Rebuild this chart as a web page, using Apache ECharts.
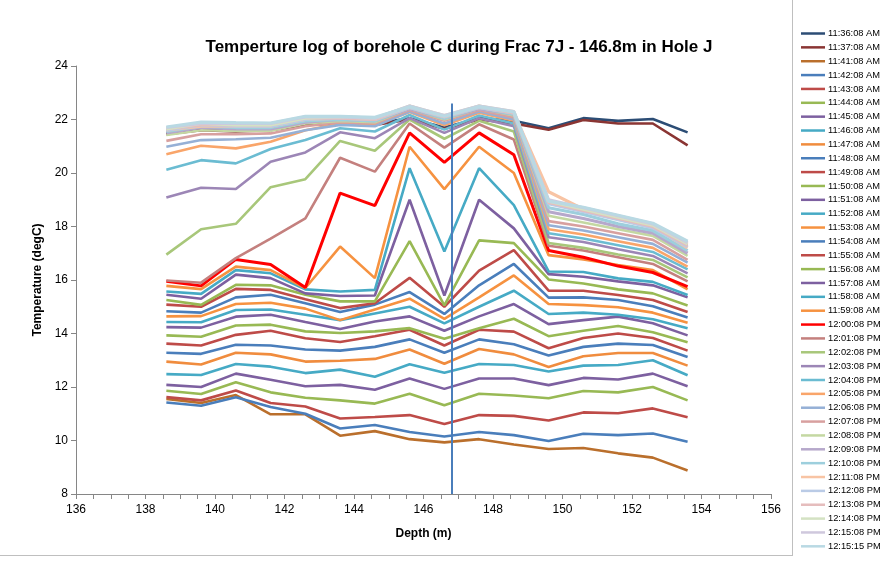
<!DOCTYPE html>
<html>
<head>
<meta charset="utf-8">
<script src="https://cdn.jsdelivr.net/npm/echarts@6/dist/echarts.min.js"></script>
<style>
  html, body { margin: 0; padding: 0; background: #fff; }
  #chart { width: 882px; height: 563px; }
</style>
</head>
<body>
<div id="chart"></div>
<script>
// depth positions (m)
const depth = [138.6, 139.6, 140.6, 141.6, 142.6, 143.6, 144.6, 145.6, 146.6, 147.6, 148.6, 149.6, 150.6, 151.6, 152.6, 153.6]

// temperature (degC) per log time
const t1136 = [21.5, 21.65, 21.6, 21.65, 21.85, 21.9, 21.85, 22.05, 21.7, 22.05, 21.95, 21.67, 22.05, 21.95, 22.02, 21.52]
const t1137 = [21.45, 21.6, 21.55, 21.6, 21.8, 21.85, 21.8, 22.0, 21.65, 22.0, 21.85, 21.62, 21.98, 21.85, 21.85, 21.03]
const t1141 = [11.55, 11.4, 11.7, 10.98, 10.98, 10.18, 10.35, 10.05, 9.93, 10.05, 9.85, 9.68, 9.72, 9.52, 9.36, 8.88]
const t1142 = [11.42, 11.3, 11.62, 11.25, 11.0, 10.45, 10.58, 10.32, 10.15, 10.32, 10.2, 9.98, 10.25, 10.2, 10.26, 9.95]
const t1143 = [11.62, 11.5, 11.87, 11.4, 11.27, 10.82, 10.88, 10.95, 10.62, 10.95, 10.92, 10.75, 11.05, 11.02, 11.2, 10.87]
const t1144 = [11.86, 11.74, 12.18, 11.8, 11.6, 11.5, 11.38, 11.75, 11.32, 11.75, 11.68, 11.58, 11.85, 11.8, 12.0, 11.5]
const t1145 = [12.08, 12.0, 12.5, 12.27, 12.03, 12.08, 11.9, 12.32, 11.93, 12.32, 12.32, 12.07, 12.34, 12.28, 12.5, 12.03]
const t1146 = [12.48, 12.45, 12.86, 12.76, 12.52, 12.65, 12.38, 12.85, 12.53, 12.86, 12.82, 12.58, 12.8, 12.82, 13.0, 12.44]
const t1147 = [12.95, 12.84, 13.28, 13.22, 12.95, 12.98, 13.05, 13.4, 12.87, 13.42, 13.22, 12.75, 13.15, 13.27, 13.27, 12.8]
const t1148 = [13.28, 13.24, 13.58, 13.55, 13.4, 13.36, 13.5, 13.78, 13.28, 13.78, 13.6, 13.18, 13.5, 13.62, 13.57, 13.12]
const t1149 = [13.62, 13.55, 13.95, 14.1, 13.82, 13.68, 13.9, 14.14, 13.55, 14.14, 14.07, 13.45, 13.83, 14.0, 13.83, 13.36]
const t1150 = [13.93, 13.88, 14.3, 14.33, 14.08, 14.02, 14.08, 14.2, 13.8, 14.2, 14.55, 13.9, 14.1, 14.28, 14.05, 13.67]
const t1151 = [14.24, 14.22, 14.63, 14.7, 14.43, 14.17, 14.45, 14.64, 14.1, 14.64, 15.1, 14.35, 14.5, 14.63, 14.38, 13.93]
const t1152 = [14.43, 14.42, 14.88, 14.9, 14.7, 14.5, 14.75, 15.0, 14.38, 15.0, 15.6, 14.73, 14.78, 14.7, 14.53, 14.2]
const t1153 = [14.64, 14.65, 15.1, 15.15, 14.93, 14.5, 14.9, 15.3, 14.55, 15.35, 16.17, 15.1, 15.06, 14.98, 14.78, 14.4]
const t1154 = [14.83, 14.78, 15.35, 15.45, 15.13, 14.8, 15.08, 15.55, 14.73, 15.8, 16.6, 15.34, 15.35, 15.25, 15.02, 14.6]
const t1155 = [15.08, 15.0, 15.67, 15.63, 15.28, 14.95, 15.13, 16.08, 15.0, 16.35, 17.12, 15.6, 15.6, 15.44, 15.25, 14.8]
const t1156 = [15.25, 15.07, 15.82, 15.8, 15.45, 15.2, 15.2, 17.45, 15.05, 17.48, 17.38, 16.02, 15.87, 15.65, 15.5, 15.05]
const t1157 = [15.45, 15.3, 16.2, 16.07, 15.5, 15.4, 15.42, 19.0, 15.42, 19.0, 17.93, 16.22, 16.12, 15.95, 15.8, 15.35]
const t1158 = [15.57, 15.48, 16.37, 16.25, 15.65, 15.57, 15.63, 20.18, 17.07, 20.18, 18.8, 16.32, 16.3, 16.06, 15.93, 15.44]
const t1159 = [15.78, 15.66, 16.5, 16.37, 15.7, 17.25, 16.07, 20.98, 19.4, 20.98, 20.0, 16.93, 16.77, 16.56, 16.37, 15.65]
const t1200 = [15.95, 15.78, 16.77, 16.58, 15.72, 19.25, 18.78, 21.5, 20.4, 21.5, 20.68, 17.1, 16.85, 16.52, 16.28, 15.75]
const t1201 = [15.98, 15.9, 16.82, 17.55, 18.3, 20.57, 20.05, 21.85, 20.95, 21.82, 21.25, 17.28, 17.1, 16.85, 16.6, 15.95]
const t1202 = [16.95, 17.9, 18.1, 19.47, 19.77, 21.2, 20.83, 22.0, 21.28, 21.95, 21.55, 17.38, 17.2, 16.95, 16.75, 16.1]
const t1203 = [19.08, 19.45, 19.4, 20.42, 20.77, 21.52, 21.3, 22.05, 21.5, 22.05, 21.75, 17.6, 17.42, 17.15, 16.9, 16.25]
const t1204 = [20.12, 20.48, 20.36, 20.9, 21.23, 21.67, 21.55, 22.17, 21.62, 22.15, 21.85, 17.75, 17.55, 17.3, 17.05, 16.4]
const t1205 = [20.7, 21.02, 20.92, 21.17, 21.6, 21.85, 21.78, 22.28, 21.78, 22.25, 21.95, 17.9, 17.7, 17.45, 17.2, 16.5]
const t1206 = [20.98, 21.23, 21.26, 21.32, 21.6, 21.8, 21.75, 22.3, 21.85, 22.3, 22.0, 18.05, 17.85, 17.6, 17.35, 16.65]
const t1207 = [21.2, 21.45, 21.45, 21.48, 21.75, 21.9, 21.85, 22.35, 21.95, 22.35, 22.08, 18.2, 18.0, 17.75, 17.5, 16.75]
const t1208 = [21.42, 21.6, 21.57, 21.58, 21.85, 21.95, 21.9, 22.4, 22.0, 22.4, 22.15, 18.4, 18.15, 17.9, 17.65, 16.9]
const t1209 = [21.5, 21.7, 21.65, 21.65, 21.9, 22.0, 21.95, 22.4, 22.05, 22.4, 22.2, 18.55, 18.3, 18.0, 17.75, 17.0]
const t1210 = [21.55, 21.75, 21.7, 21.7, 21.95, 22.0, 21.95, 22.45, 22.05, 22.45, 22.2, 18.7, 18.45, 18.1, 17.85, 17.1]
const t1211 = [21.6, 21.75, 21.75, 21.75, 22.0, 22.05, 22.0, 22.45, 22.1, 22.45, 22.25, 19.3, 18.65, 18.3, 18.0, 17.2]
const t1212 = [21.6, 21.8, 21.75, 21.75, 22.0, 22.05, 22.0, 22.45, 22.1, 22.45, 22.25, 18.85, 18.55, 18.25, 17.95, 17.25]
const t1213 = [21.65, 21.8, 21.8, 21.8, 22.05, 22.05, 22.0, 22.5, 22.1, 22.5, 22.25, 18.9, 18.6, 18.3, 18.0, 17.3]
const t1214 = [21.65, 21.85, 21.8, 21.8, 22.05, 22.1, 22.05, 22.5, 22.15, 22.5, 22.3, 18.95, 18.65, 18.35, 18.05, 17.35]
const t121508 = [21.7, 21.85, 21.85, 21.85, 22.1, 22.1, 22.05, 22.5, 22.15, 22.5, 22.3, 19.0, 18.7, 18.4, 18.1, 17.4]
const t121515 = [21.72, 21.9, 21.88, 21.87, 22.12, 22.12, 22.08, 22.48, 22.12, 22.48, 22.28, 18.95, 18.72, 18.42, 18.12, 17.45]

const times = ['11:36:08 AM', '11:37:08 AM', '11:41:08 AM', '11:42:08 AM', '11:43:08 AM', '11:44:08 AM',
  '11:45:08 AM', '11:46:08 AM', '11:47:08 AM', '11:48:08 AM', '11:49:08 AM', '11:50:08 AM', '11:51:08 AM',
  '11:52:08 AM', '11:53:08 AM', '11:54:08 AM', '11:55:08 AM', '11:56:08 AM', '11:57:08 AM', '11:58:08 AM',
  '11:59:08 AM', '12:00:08 PM', '12:01:08 PM', '12:02:08 PM', '12:03:08 PM', '12:04:08 PM', '12:05:08 PM',
  '12:06:08 PM', '12:07:08 PM', '12:08:08 PM', '12:09:08 PM', '12:10:08 PM', '12:11:08 PM', '12:12:08 PM',
  '12:13:08 PM', '12:14:08 PM', '12:15:08 PM', '12:15:15 PM']

const temps = [t1136, t1137, t1141, t1142, t1143, t1144, t1145, t1146, t1147, t1148, t1149, t1150, t1151,
  t1152, t1153, t1154, t1155, t1156, t1157, t1158, t1159, t1200, t1201, t1202, t1203, t1204, t1205,
  t1206, t1207, t1208, t1209, t1210, t1211, t1212, t1213, t1214, t121508, t121515]

// frac depth marker
const fracDepth = 146.8

const colors = ['#2C4D75', '#8A3533', '#BA6F2C', '#4A7EBB', '#BE4B48', '#98B954', '#7D60A0', '#46AAC5',
  '#F08C3E', '#4A7EBB', '#BE4B48', '#98B954', '#7D60A0', '#46AAC5', '#F69240', '#4A7EBB', '#BE4B48',
  '#98B954', '#7D60A0', '#46AAC5', '#F69240', '#FF0000', '#C4807E', '#A8C77A', '#9C86B6', '#6BBCD2',
  '#F9A56A', '#95B0D6', '#D8A09F', '#C4D8A2', '#B6A8CB', '#9DCFDD', '#F8C4A4', '#BACBE6', '#E5BDBD',
  '#D4E2C3', '#CFC8DD', '#B9D9E3']

const series = times.map((name, i) => {
  const s = {
    name: name,
    type: 'line',
    data: depth.map((d, j) => [d, temps[i][j]]),
    symbol: 'none',
    z: 2 + i,
    lineStyle: { color: colors[i], width: i === 21 ? 3 : (i >= 30 ? 3.2 : 2.6) },
    itemStyle: { color: colors[i] },
    emphasis: { disabled: true },
    animation: false
  }
  if (i === 0) {
    s.markLine = {
      silent: true,
      symbol: 'none',
      label: { show: false },
      lineStyle: { color: '#4A7EBB', width: 2, type: 'solid' },
      data: [[{ coord: [fracDepth, 8] }, { coord: [fracDepth, 22.6] }]],
      z: 100
    }
  }
  return s
})

const chart = echarts.init(document.getElementById('chart'))
chart.setOption({
  animation: false,
  title: {
    text: 'Temperture log of borehole C during Frac 7J - 146.8m in Hole J',
    left: 454,
    textAlign: 'center',
    top: 34,
    textStyle: { fontFamily: 'Liberation Sans', fontSize: 17, fontWeight: 'bold', color: '#000' }
  },
  legend: {
    orient: 'vertical',
    left: 801,
    top: 29,
    padding: 0,
    itemWidth: 24,
    itemHeight: 10,
    itemGap: 4.86,
    icon: 'path://M0,4L24,4L24,6.5L0,6.5Z',
    textStyle: { fontFamily: 'Liberation Sans', fontSize: 9.3, color: '#000', padding: [0, 0, 0, -2] },
    data: times
  },
  grid: { left: 76, right: 111, top: 66, bottom: 69 },
  xAxis: {
    type: 'value',
    min: 136,
    max: 156,
    interval: 2,
    name: 'Depth (m)',
    nameLocation: 'middle',
    nameGap: 34,
    nameTextStyle: { fontFamily: 'Liberation Sans', fontSize: 12, fontWeight: 'bold', color: '#000' },
    axisLine: { lineStyle: { color: '#868686', width: 1 } },
    axisTick: { show: true, length: 5, lineStyle: { color: '#868686' } },
    minorTick: { show: true, splitNumber: 4, length: 5, lineStyle: { color: '#868686' } },
    axisLabel: { fontFamily: 'Liberation Sans', fontSize: 12, color: '#000', margin: 10 },
    splitLine: { show: false }
  },
  yAxis: {
    type: 'value',
    min: 8,
    max: 24,
    interval: 2,
    name: 'Temperature (degC)',
    nameLocation: 'middle',
    nameGap: 28,
    nameTextStyle: { fontFamily: 'Liberation Sans', fontSize: 12, fontWeight: 'bold', color: '#000' },
    axisLine: { show: true, lineStyle: { color: '#868686', width: 1 } },
    axisTick: { show: true, length: 5, lineStyle: { color: '#868686' } },
    axisLabel: { fontFamily: 'Liberation Sans', fontSize: 12, color: '#000', margin: 8 },
    splitLine: { show: false }
  },
  graphic: [
    { type: 'line', shape: { x1: 792.5, y1: 0, x2: 792.5, y2: 556 }, style: { stroke: '#BFBFBF', lineWidth: 1 } },
    { type: 'line', shape: { x1: 0, y1: 555.5, x2: 792, y2: 555.5 }, style: { stroke: '#BFBFBF', lineWidth: 1 } }
  ],
  series: series
})
</script>
</body>
</html>
